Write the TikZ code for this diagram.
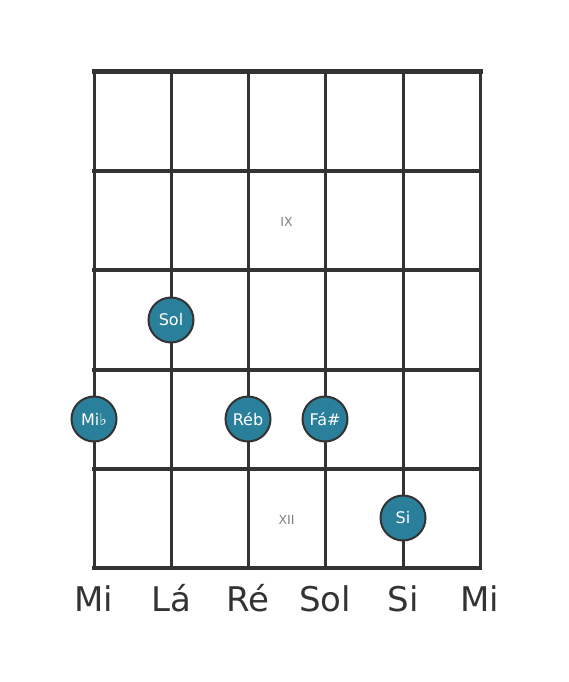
\documentclass[tikz,border=0pt]{standalone}
\usepackage{fontspec}
\setmainfont{DejaVu Sans}
\definecolor{gridc}{HTML}{333333}
\definecolor{dotc}{HTML}{2A7F9A}
\definecolor{fretc}{HTML}{808080}
\begin{document}
\begin{tikzpicture}[x=1pt,y=-1pt,
  fretline/.style={draw=gridc,line width=4pt,line cap=rect},
  nutline/.style={draw=gridc,line width=5pt,line cap=rect},
  stringline/.style={draw=gridc,line width=3pt},
  notedot/.style={circle,draw=gridc,line width=2pt,fill=dotc,minimum size=45pt,inner sep=0pt,text=white,font=\fontsize{16}{16}\selectfont},
  strlabel/.style={text=gridc,font=\fontsize{34}{34}\selectfont,inner sep=0pt},
  fretlabel/.style={text=fretc,font=\fontsize{12.5}{12.5}\selectfont,inner sep=0pt}]
\useasboundingbox (0,0) rectangle (568,682);
% strings
\foreach \x/\n in {94/s1,171/s2,248/s3,325/s4,403/s5,480/s6}{
  \coordinate (\n t) at (\x,72);
  \coordinate (\n b) at (\x,568);
  \draw[stringline] (\n t) -- (\n b);
}
% frets
\foreach \y/\n in {171/f1,270/f2,370/f3,469/f4,568/f5}{
  \coordinate (\n l) at (94,\y);
  \coordinate (\n r) at (480,\y);
  \draw[fretline] (\n l) -- (\n r);
}
\coordinate (nl) at (94,72);
\coordinate (nr) at (480,72);
\draw[nutline] (nl) -- (nr);
% fret labels
\node[fretlabel] (ix) at (286.5,222) {IX};
\node[fretlabel] (xii) at (286.5,520) {XII};
% dots
\node[notedot] (sol) at (171,320) {Sol};
\node[notedot] (mib) at (94,419) {Mi♭};
\node[notedot] (reb) at (248,419) {Réb};
\node[notedot] (fas) at (325,419) {Fá\#};
\node[notedot] (si) at (403,518) {Si};
% string labels
\foreach \x/\t/\n in {94/Mi/l1,171/Lá/l2,248/Ré/l3,325/Sol/l4,403/Si/l5,480/Mi/l6}{
  \node[strlabel,anchor=base] (\n) at (\x,611) {\t};
}
\end{tikzpicture}
\end{document}
